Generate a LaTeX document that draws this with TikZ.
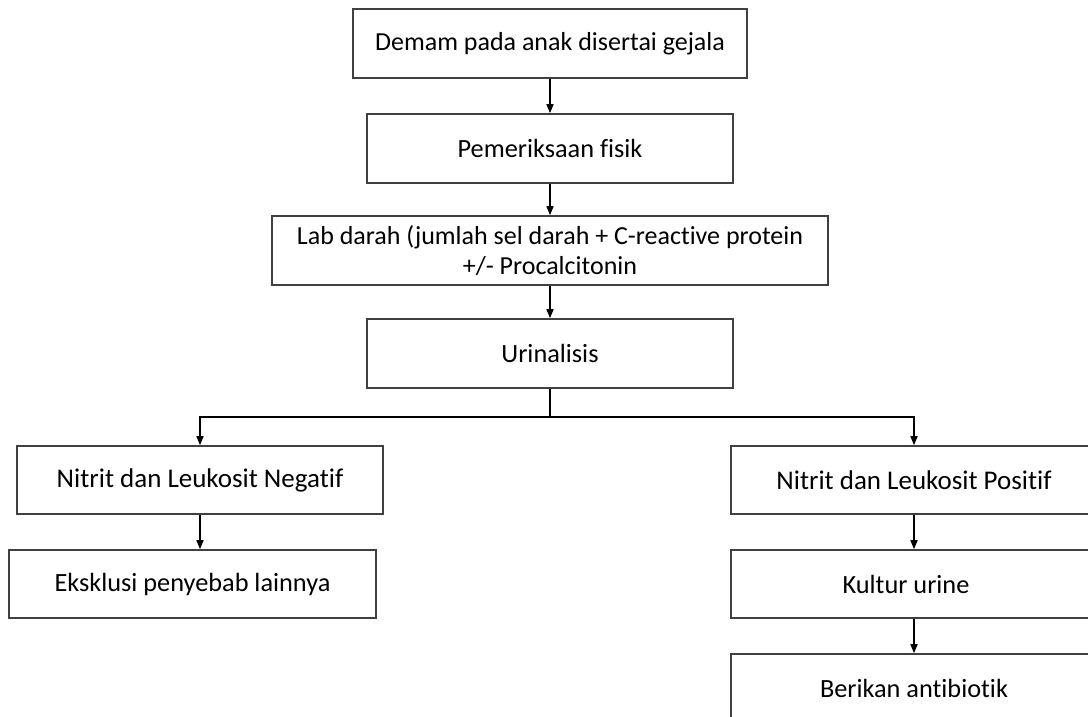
\documentclass[tikz,border=0pt]{standalone}
\usepackage{fontspec}
\setmainfont{Carlito}[Ligatures={NoCommon,NoContextual}]
\usetikzlibrary{arrows.meta,calc}
\definecolor{boxline}{HTML}{404040}
\tikzset{
  box/.style={draw=boxline, line width=1.6pt, fill=white, inner sep=0pt, align=center,
    font=\fontsize{26.3}{30}\selectfont, text=black},
  bigtext/.style={font=\fontsize{27}{30}\selectfont},
  arr/.style={line width=1.5pt, draw=black, -{Triangle[length=9pt,width=7pt]}},
  link/.style={line width=1.5pt, draw=black}
}
\begin{document}
\begin{tikzpicture}[x=1pt,y=-1pt]
\path[use as bounding box, clip] (0,0) rectangle (1088,717);
\fill[white] (0,0) rectangle (1088,717);

\node[box, minimum width=394pt, minimum height=69pt, font=\fontsize{26}{30}\selectfont] (top) at (550,43.5) {Demam pada anak disertai gejala};
\node[box, minimum width=366pt, minimum height=69pt] (pem) at (550,148.5) {Pemeriksaan fisik};
\node[box, minimum width=556pt, minimum height=69pt, font=\fontsize{26}{30.5}\selectfont] (lab) at (550,250.5) {Lab darah (jumlah sel darah + C-reactive protein\\+/- Procalcitonin};
\node[box, minimum width=366pt, minimum height=69pt] (uri) at (550,353.5) {Urinalisis};

\node[box, bigtext, minimum width=366pt, minimum height=68pt] (neg) at (200,480) {Nitrit dan Leukosit Negatif};
\node[box, minimum width=367pt, minimum height=68pt] (eks) at (192.5,584) {Eksklusi penyebab lainnya};

\node[box, bigtext, minimum width=366pt, minimum height=68pt] (pos) at (914,480) {Nitrit dan Leukosit Positif};
\node[box, minimum width=366pt, minimum height=68pt] (kul) at (914,584) {\hspace*{-16pt}Kultur urine};
\node[box, minimum width=366pt, minimum height=69pt] (ber) at (914,688.5) {Berikan antibiotik};

\coordinate (br) at (550,417);

\draw[arr] (top.south) -- (pem.north);
\draw[arr] (pem.south) -- (lab.north);
\draw[arr] (lab.south) -- (uri.north);
\draw[link] (uri.south) -- (br);
\draw[arr] (br) -| (neg.north);
\draw[arr] (br) -| (pos.north);
\draw[arr] (neg.south) -- (neg.south |- eks.north);
\draw[arr] (pos.south) -- (kul.north);
\draw[arr] (kul.south) -- (ber.north);
\end{tikzpicture}
\end{document}
